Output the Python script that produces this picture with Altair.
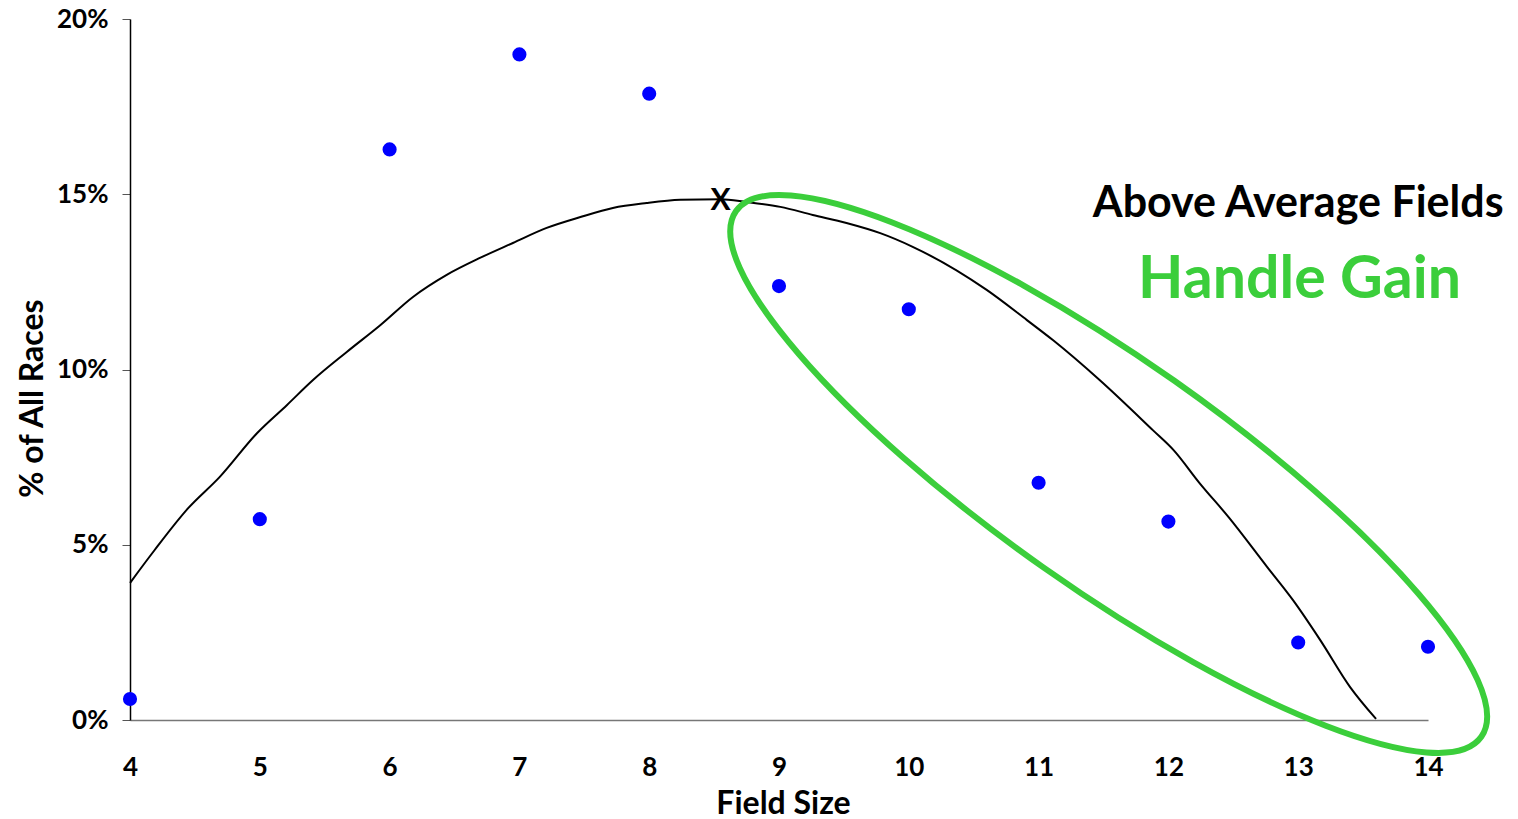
import altair as alt
import pandas as pd

# Observed data: share of all races by field size
field_size = [4, 5, 6, 7, 8, 9, 10, 11, 12, 13, 14]
share = [0.0060, 0.0573, 0.1628, 0.1899, 0.1787, 0.1238, 0.1172, 0.0677, 0.0566, 0.0221, 0.0209]

# Fitted trend curve
curve_x = [4.00, 4.19, 4.45, 4.69, 4.98, 5.21, 5.41, 5.67, 5.93, 6.18, 6.44, 6.70, 6.95,
           7.21, 7.47, 7.72, 7.98, 8.24, 8.55, 8.75, 9.01, 9.26, 9.52, 9.78, 10.03,
           10.60, 10.91, 11.11, 11.47, 11.88, 12.04, 12.24, 12.47, 12.76, 12.96, 13.17,
           13.40, 13.60]
curve_y = [0.0391, 0.0485, 0.0605, 0.0693, 0.0819, 0.0899, 0.0970, 0.1050, 0.1127, 0.1207,
           0.1270, 0.1319, 0.1361, 0.1404, 0.1435, 0.1461, 0.1475, 0.1484, 0.1486, 0.1478,
           0.1464, 0.1441, 0.1418, 0.1389, 0.1350, 0.1227, 0.1141, 0.1084, 0.0970, 0.0827,
           0.0770, 0.0676, 0.0576, 0.0437, 0.0342, 0.0228, 0.0094, 0.0003]

x_ticks = [4, 5, 6, 7, 8, 9, 10, 11, 12, 13, 14]
y_ticks = [0, 0.05, 0.10, 0.15, 0.20]

FONT = "Lato"
GREEN = "#3BCE3B"

pts = pd.DataFrame({"field": field_size, "share": share})
crv = pd.DataFrame({"field": curve_x, "share": curve_y})
one = pd.DataFrame({"k": [0]})

xscale = alt.Scale(domain=[4, 14], nice=False, zero=False)
yscale = alt.Scale(domain=[0, 0.2], nice=False)

xaxis = alt.Axis(values=x_ticks, format="d", ticks=False, grid=False, domainColor="#777777",
                 domainWidth=1.5, labelFont=FONT, labelFontSize=26, labelFontWeight="bold",
                 labelColor="black", labelPadding=34, labelFlush=False, labelOverlap=False,
                 title="Field Size", titleFont=FONT,
                 titleFontSize=32, titleFontWeight="bold", titleColor="black",
                 titleX=653, titleY=93, titleBaseline="alphabetic")
yaxis = alt.Axis(values=y_ticks, format=".0%", tickSize=8, tickColor="#555555",
                 grid=False, domainColor="black", domainWidth=1.5, labelFont=FONT,
                 labelFontSize=26, labelFontWeight="bold", labelColor="black",
                 labelPadding=14, labelFlush=False, title="% of All Races", titleFont=FONT,
                 titleFontSize=32, titleFontWeight="bold", titleColor="black",
                 titleX=-88, titleY=379, titleBaseline="alphabetic", titleAngle=-90)

base_pts = alt.Chart(pts).mark_point(filled=True, color="#0000FF", size=200, opacity=1).encode(
    x=alt.X("field:Q", scale=xscale, axis=xaxis),
    y=alt.Y("share:Q", scale=yscale, axis=yaxis),
)

line = alt.Chart(crv).mark_line(color="black", strokeWidth=2, interpolate="monotone").encode(
    x=alt.X("field:Q", scale=xscale),
    y=alt.Y("share:Q", scale=yscale),
)

xmark = alt.Chart(one).mark_text(text="X", font=FONT, fontSize=30, fontWeight="bold",
                                 color="black", baseline="middle", align="center").encode(
    x=alt.datum(8.55), y=alt.datum(0.1482))

ellipse_path = "M -1 0 A 1 0.25 0 1 0 1 0 A 1 0.25 0 1 0 -1 0 Z"
ellipse = alt.Chart(one).mark_point(shape=ellipse_path, size=(2 * 456) ** 2, angle=35.2,
                                    filled=False, stroke=GREEN, strokeWidth=6,
                                    opacity=1).encode(
    x=alt.datum(11.54), y=alt.datum(0.0702))

t1 = alt.Chart(one).mark_text(text="Above Average Fields", font=FONT, fontSize=43,
                              fontWeight="bold", color="black", align="center",
                              baseline="alphabetic").encode(
    x=alt.datum(13.0), y=alt.datum(0.1434))

t2 = alt.Chart(one).mark_text(text="Handle Gain", font=FONT, fontSize=59,
                              fontWeight="bold", color=GREEN, align="center",
                              baseline="alphabetic").encode(
    x=alt.datum(13.01), y=alt.datum(0.1204))

chart = alt.layer(line, base_pts, xmark, ellipse, t1, t2).properties(
    width=1298, height=701,
    background="white",
    autosize=alt.AutoSizeParams(type="none"),
    padding={"left": 130, "top": 19, "right": 90, "bottom": 99},
).configure_view(stroke=None)

chart.save("out.html", embed_options={"renderer": "svg", "actions": False})
